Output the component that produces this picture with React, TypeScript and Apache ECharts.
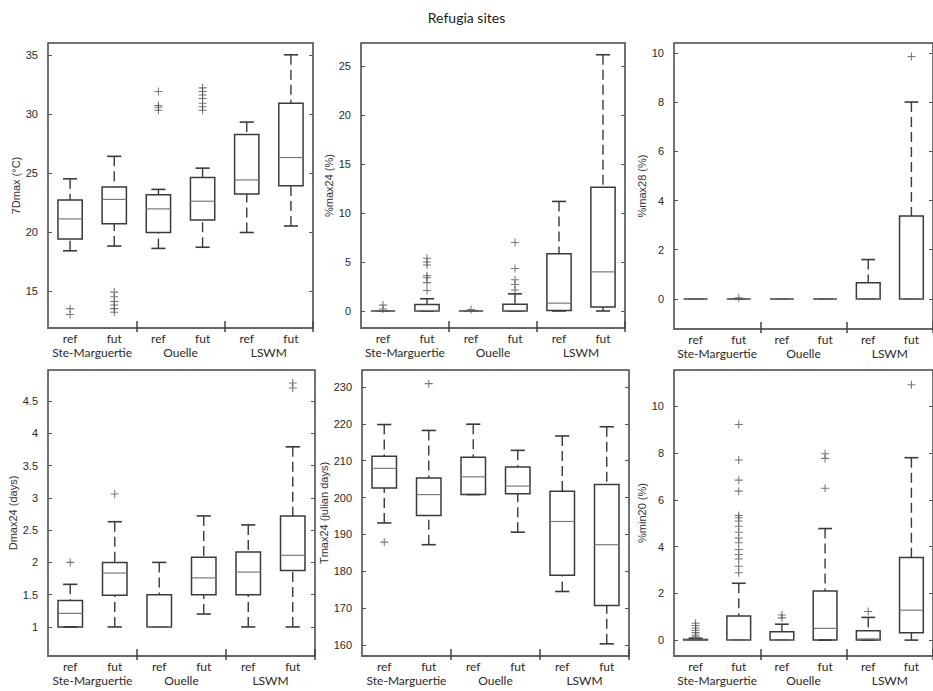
import React, { useEffect, useRef } from "react";
import * as echarts from "echarts";

// ---------- DATA ----------
const categories = ["SM_ref", "SM_fut", "OU_ref", "OU_fut", "LS_ref", "LS_fut"];
const sites = ["Ste-Marguertie", "Ouelle", "LSWM"];

// box rows: [lower whisker, Q1, median, Q3, upper whisker]
const d7maxBoxes = [
  [18.4, 19.4, 21.1, 22.7, 24.5],
  [18.8, 20.7, 22.75, 23.8, 26.4],
  [18.6, 19.95, 21.95, 23.15, 23.6],
  [18.7, 21.0, 22.6, 24.6, 25.4],
  [19.95, 23.2, 24.4, 28.25, 29.3],
  [20.5, 23.9, 26.3, 30.9, 35.0],
];
const d7maxOutliers = [
  [13.5, 13.0],
  [14.9, 14.5, 14.1, 13.8, 13.5, 13.2],
  [31.9, 30.7, 30.55, 30.3],
  [32.2, 31.9, 31.6, 31.3, 30.9, 30.6, 30.3],
  [],
  [],
];
const d7maxTicks = [15, 20, 25, 30, 35];

const pmax24Boxes = [
  [0, 0, 0, 0, 0],
  [0, 0, 0.05, 0.65, 1.25],
  [0, 0, 0, 0, 0],
  [0, 0, 0.05, 0.7, 1.75],
  [0, 0.05, 0.8, 5.85, 11.2],
  [0, 0.4, 4.0, 12.65, 26.2],
];
const pmax24Outliers = [
  [0.6, 0.2],
  [5.4, 5.0, 4.7, 3.6, 3.4, 2.9, 2.1],
  [0.15],
  [7.0, 4.35, 3.2, 2.7, 2.15],
  [],
  [],
];
const pmax24Ticks = [0, 5, 10, 15, 20, 25];

const pmax28Boxes = [
  [0, 0, 0, 0, 0],
  [0, 0, 0, 0, 0],
  [0, 0, 0, 0, 0],
  [0, 0, 0, 0, 0],
  [0, 0, 0, 0.66, 1.6],
  [0, 0, 0, 3.37, 8.0],
];
const pmax28Outliers = [[], [0.05], [], [], [], [9.85]];
const pmax28Ticks = [0, 2, 4, 6, 8, 10];

const dmax24Boxes = [
  [1.0, 1.0, 1.21, 1.41, 1.66],
  [1.0, 1.49, 1.835, 2.0, 2.63],
  [1.0, 1.0, 1.0, 1.5, 2.0],
  [1.2, 1.5, 1.76, 2.08, 2.72],
  [1.0, 1.5, 1.85, 2.16, 2.58],
  [1.0, 1.875, 2.11, 2.72, 3.79],
];
const dmax24Outliers = [[2.0], [3.06], [], [], [], [4.78, 4.7]];
const dmax24Ticks = [1, 1.5, 2, 2.5, 3, 3.5, 4, 4.5];

const tmax24Boxes = [
  [193.1, 202.6, 207.9, 211.2, 219.8],
  [187.2, 195.1, 200.8, 205.3, 218.2],
  [200.8, 200.8, 205.6, 210.9, 219.9],
  [190.6, 201.0, 203.1, 208.3, 212.8],
  [174.5, 178.9, 193.5, 201.7, 216.7],
  [160.3, 170.7, 187.2, 203.5, 219.2],
];
const tmax24Outliers = [[187.9], [230.9], [], [], [], []];
const tmax24Ticks = [160, 170, 180, 190, 200, 210, 220, 230];

const pmin20Boxes = [
  [0, 0, 0, 0.03, 0.08],
  [0, 0, 0, 1.03, 2.43],
  [0, 0, 0, 0.36, 0.68],
  [0, 0, 0.5, 2.1, 4.77],
  [0, 0, 0.05, 0.4, 0.97],
  [0, 0.31, 1.28, 3.53, 7.8],
];
const pmin20Outliers = [
  [0.72, 0.62, 0.52, 0.42, 0.32, 0.22, 0.14],
  [9.22, 7.7, 6.84, 6.37, 5.33, 5.23, 5.09, 4.87, 4.61, 4.37, 4.16, 3.87, 3.66, 3.47, 3.16, 2.88],
  [1.07, 0.95],
  [7.97, 7.77, 6.49],
  [1.22],
  [10.92],
];
const pmin20Ticks = [0, 2, 4, 6, 8, 10];

// ---------- LAYOUT / CONFIG ----------
const panels = [
  { name: "7Dmax (°C)", boxes: d7maxBoxes, outliers: d7maxOutliers, ticks: d7maxTicks, min: 11.86, max: 36.0, left: 48, top: 43, width: 265, height: 285, nameGap: 21 },
  { name: "%max24 (%)", boxes: pmax24Boxes, outliers: pmax24Outliers, ticks: pmax24Ticks, min: -1.74, max: 27.4, left: 361, top: 43, width: 264, height: 285, nameGap: 19 },
  { name: "%max28 (%)", boxes: pmax28Boxes, outliers: pmax28Outliers, ticks: pmax28Ticks, min: -1.22, max: 10.4, left: 674, top: 43, width: 264, height: 286, nameGap: 16 },
  { name: "Dmax24 (days)", boxes: dmax24Boxes, outliers: dmax24Outliers, ticks: dmax24Ticks, min: 0.55, max: 4.98, left: 48, top: 370, width: 267, height: 286, nameGap: 22 },
  { name: "Tmax24 (julian days)", boxes: tmax24Boxes, outliers: tmax24Outliers, ticks: tmax24Ticks, min: 157, max: 234.6, left: 362, top: 370, width: 267, height: 286, nameGap: 19 },
  { name: "%min20 (%)", boxes: pmin20Boxes, outliers: pmin20Outliers, ticks: pmin20Ticks, min: -0.68, max: 11.55, left: 674, top: 370, width: 264, height: 286, nameGap: 11 },
];

const PLUS = "path://M4,0h1.2v4h4v1.2h-4v4h-1.2v-4h-4v-1.2h4z";
const STROKE = "#3a3a3a";

function renderBox(params: any, api: any) {
  const x = api.value(0);
  const lo = api.coord([x, api.value(1)]);
  const q1 = api.coord([x, api.value(2)]);
  const med = api.coord([x, api.value(3)]);
  const q3 = api.coord([x, api.value(4)]);
  const hi = api.coord([x, api.value(5)]);
  const band = api.size([1, 0])[0];
  const bw = band * 0.55;
  const cw = band * 0.32;
  const cx = q1[0];
  const children: any[] = [];
  const dash = [10, 5];
  if (q3[1] - hi[1] > 0.5) {
    children.push({ type: "line", shape: { x1: cx, y1: hi[1], x2: cx, y2: q3[1] }, style: { stroke: STROKE, lineWidth: 1.4, lineDash: dash } });
  }
  if (lo[1] - q1[1] > 0.5) {
    children.push({ type: "line", shape: { x1: cx, y1: lo[1], x2: cx, y2: q1[1] }, style: { stroke: STROKE, lineWidth: 1.4, lineDash: dash } });
  }
  children.push({ type: "line", shape: { x1: cx - cw / 2, y1: hi[1], x2: cx + cw / 2, y2: hi[1] }, style: { stroke: STROKE, lineWidth: 1.6 } });
  children.push({ type: "line", shape: { x1: cx - cw / 2, y1: lo[1], x2: cx + cw / 2, y2: lo[1] }, style: { stroke: STROKE, lineWidth: 1.6 } });
  children.push({ type: "rect", shape: { x: cx - bw / 2, y: q3[1], width: bw, height: Math.max(q1[1] - q3[1], 0) }, style: { fill: "none", stroke: STROKE, lineWidth: 1.5 } });
  children.push({ type: "line", shape: { x1: cx - bw / 2, y1: med[1], x2: cx + bw / 2, y2: med[1] }, style: { stroke: "#7a7a7a", lineWidth: 1.2 } });
  return { type: "group", children };
}

function buildOption() {
  const grid: any[] = [];
  const xAxis: any[] = [];
  const yAxis: any[] = [];
  const series: any[] = [];
  panels.forEach((p, i) => {
    grid.push({ left: p.left, top: p.top, width: p.width, height: p.height, show: true, borderColor: "#444", borderWidth: 1.5, backgroundColor: "transparent" });
    xAxis.push({
      type: "category",
      gridIndex: i,
      data: categories,
      position: "bottom",
      boundaryGap: true,
      axisLine: { show: true, onZero: false, lineStyle: { color: "#666", width: 2 } },
      axisTick: { show: true, inside: true, length: 7, interval: (idx: number) => idx === 2 || idx === 4, lineStyle: { color: "#444", width: 1.5 } },
      axisLabel: { interval: 0, margin: 4, fontFamily: "Lato", fontSize: 12, color: "#2a2a2a", formatter: (v: string) => v.split("_")[1] },
      splitLine: { show: false },
    });
    xAxis.push({
      type: "category",
      gridIndex: i,
      data: sites,
      position: "bottom",
      boundaryGap: true,
      axisLine: { show: false, onZero: false },
      axisTick: { show: true, inside: false, length: 4, interval: (idx: number) => idx === 1 || idx === 2, lineStyle: { color: "#444", width: 1.5 } },
      axisLabel: { interval: 0, margin: 18, fontFamily: "Lato", fontSize: 12, color: "#2a2a2a" },
      splitLine: { show: false },
    });
    const yCommon = {
      type: "value",
      gridIndex: i,
      min: p.min,
      max: p.max,
      splitLine: { show: false },
      axisLine: { show: false, onZero: false },
    };
    yAxis.push({
      ...yCommon,
      position: "left",
      name: p.name,
      nameLocation: "middle",
      nameRotate: 90,
      nameGap: p.nameGap,
      nameTextStyle: { fontFamily: "Liberation Sans", fontSize: 11, color: "#333" },
      axisTick: { show: true, inside: true, length: 4, customValues: p.ticks, lineStyle: { color: "#555" } },
      axisLabel: { show: true, margin: 10, customValues: p.ticks, fontFamily: "Liberation Sans", fontSize: 11, color: "#2a2a2a" },
    });
    yAxis.push({
      ...yCommon,
      position: "right",
      axisTick: { show: true, inside: true, length: 4, customValues: p.ticks, lineStyle: { color: "#555" } },
      axisLabel: { show: false },
    });
    series.push({
      type: "custom",
      xAxisIndex: 2 * i,
      yAxisIndex: 2 * i,
      renderItem: renderBox,
      encode: { x: 0, y: [1, 2, 3, 4, 5] },
      data: p.boxes.map((b, k) => [k, ...b]),
      z: 2,
    });
    const pts: number[][] = [];
    p.outliers.forEach((arr, k) => arr.forEach((v) => pts.push([k, v])));
    series.push({
      type: "scatter",
      xAxisIndex: 2 * i,
      yAxisIndex: 2 * i,
      symbol: PLUS,
      symbolSize: 8,
      itemStyle: { color: "#555" },
      data: pts,
      z: 3,
    });
  });
  return {
    animation: false,
    backgroundColor: "#fff",
    title: {
      text: "Refugia sites",
      left: "center",
      top: 5,
      textStyle: { fontFamily: "Lato", fontSize: 14, fontWeight: "normal", color: "#1a1a1a" },
    },
    grid,
    xAxis,
    yAxis,
    series,
  };
}

export default function App() {
  const ref = useRef<HTMLDivElement>(null);
  useEffect(() => {
    if (!ref.current) return;
    const chart = echarts.init(ref.current, undefined, { renderer: "svg" });
    chart.setOption(buildOption() as any);
    return () => chart.dispose();
  }, []);
  return <div ref={ref} style={{ position: "fixed", left: 0, top: 0, width: 933, height: 691 }} />;
}
